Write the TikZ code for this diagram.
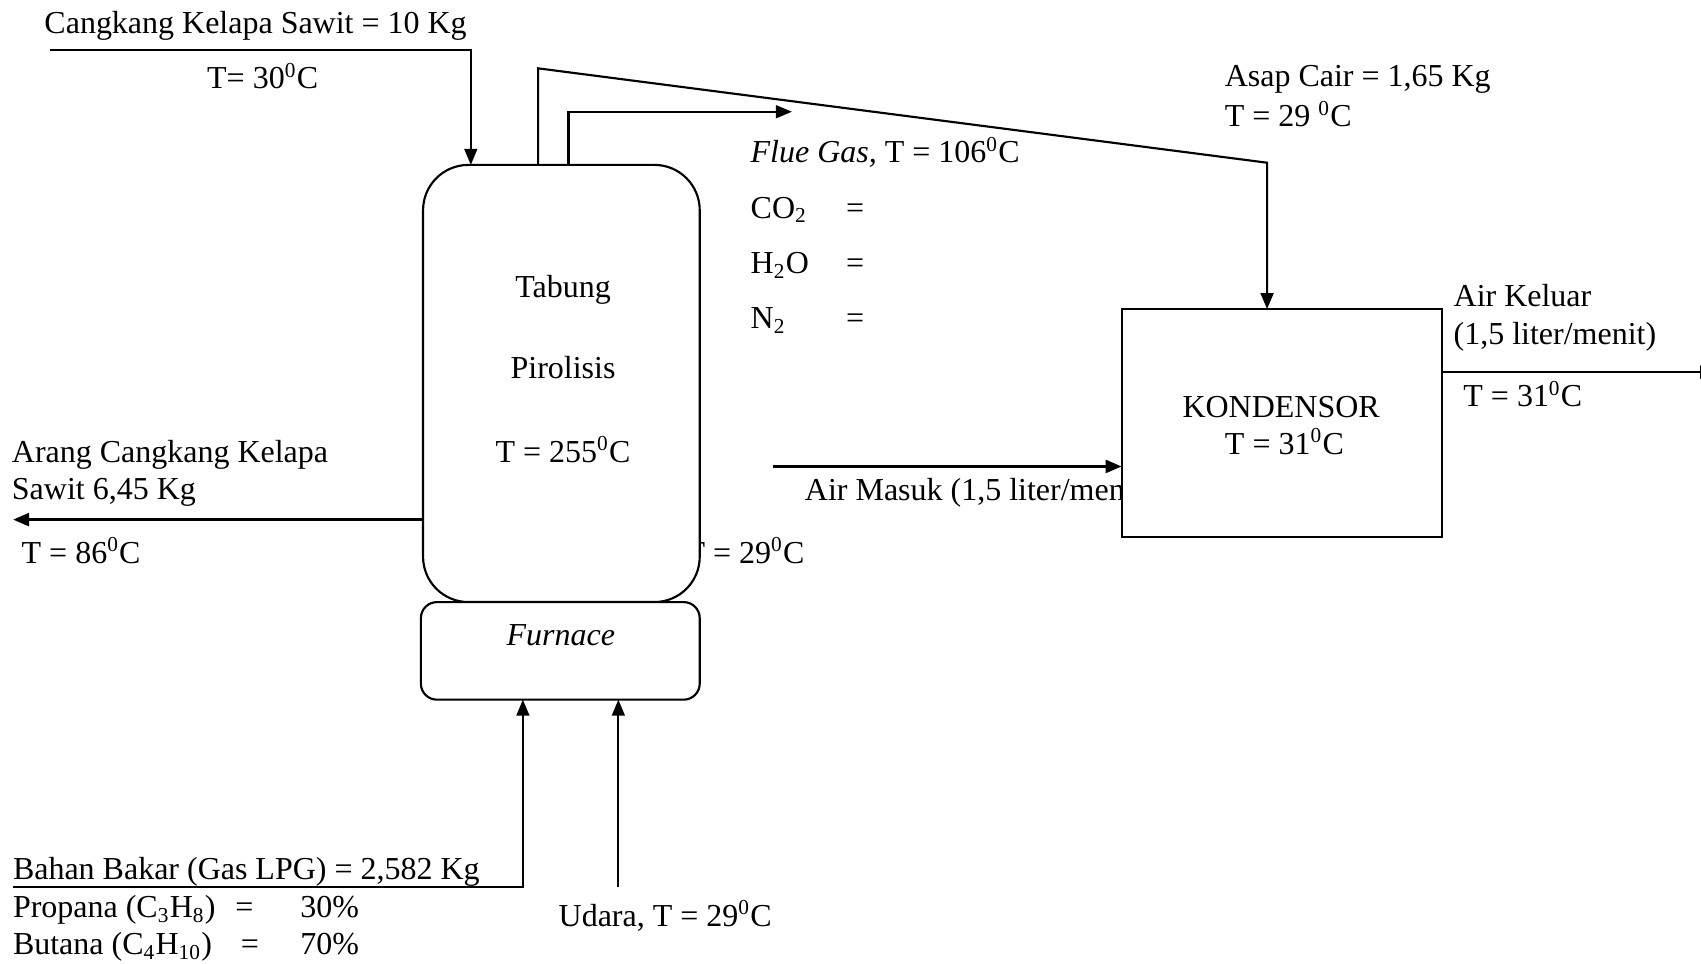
\documentclass[tikz,border=0pt]{standalone}
\usepackage{fontspec}
\setmainfont{Liberation Serif}
\usetikzlibrary{arrows.meta}
\tikzset{
  unit/.style={rectangle, draw, line width=0.8pt, fill=white, inner sep=0pt, outer sep=0pt},
  pipe/.style={line width=0.8pt},
  flow/.style={pipe, -{Triangle[length=6pt,width=4.8pt]}},
  thickflow/.style={flow, line width=1.1pt},
  lbl/.style={inner sep=0pt, outer sep=0pt, font=\fontsize{12}{14}\selectfont},
}
\newcommand{\dgc}{\textsuperscript{0}C}
\begin{document}
\begin{tikzpicture}[x=0.407pt,y=-0.407pt]
\useasboundingbox (0,0) rectangle (1568,888);

% labels partly hidden behind units (drawn first)
\node[lbl, anchor=base west] (tw) at (632,519) {T = 29\dgc};
\node[lbl, anchor=base west] (am) at (742,461) {Air Masuk (1,5 liter/menit)};

% units
\node[unit, rounded corners=17pt, minimum width=103.8pt, minimum height=164pt] (tab) at (517.5,353.5) {};
\node[unit, rounded corners=6pt, minimum width=104.6pt, minimum height=36.6pt] (fur) at (516.5,600) {};
\node[unit, minimum width=120.1pt, minimum height=85.5pt] (kon) at (1181.5,390) {};

\node[lbl, anchor=base] (t1) at (519,274) {Tabung};
\node[lbl, anchor=base] (t2) at (519,349) {Pirolisis};
\node[lbl, anchor=base] (t3) at (519,426) {T = 255\dgc};
\node[lbl, anchor=base] (f1t) at (517,595) {\textit{Furnace}};
\node[lbl, anchor=base] (k1t) at (1181,385) {KONDENSOR};
\node[lbl, anchor=base] (k2t) at (1184,419) {T = 31\dgc};

% coordinates
\coordinate (c0) at (46,46);
\coordinate (cx) at (434,46);
\coordinate (s1) at (496,63);
\coordinate (s2) at (1168,150);
\coordinate (fa) at (524,103);
\coordinate (fb) at (730,103);
\coordinate (a1) at (12,479);
\coordinate (m1) at (713,430);
\coordinate (k1) at (1582,343);
\coordinate (b1) at (12,818);
\coordinate (b2) at (482,818);
\coordinate (u1) at (570,818);

% connectors
\draw[flow] (c0) -- (cx) -- (cx |- tab.north);
\draw[flow] (s1 |- tab.north) -- (s1) -- (s2) -- (s2 |- kon.north);
\draw[flow] (fa |- tab.north) -- (fa) -- (fb);
\draw[thickflow] (tab.west |- a1) -- (a1);
\draw[thickflow] (m1) -- (m1 -| kon.west);
\draw[flow] (kon.east |- k1) -- (k1);
\draw[flow] (b1) -- (b2) -- (b2 |- fur.south);
\draw[flow] (u1) -- (u1 |- fur.south);

% labels
\node[lbl, anchor=base west] (l1) at (41,31) {Cangkang Kelapa Sawit = 10 Kg};
\node[lbl, anchor=base west] (l2) at (191,82) {T= 30\dgc};
\node[lbl, anchor=base west] (l3) at (692,150) {\textit{Flue Gas,} T = 106\dgc};
\node[lbl, anchor=base west] (l4) at (692,201) {CO\textsubscript{2}};
\node[lbl, anchor=base west] (l4e) at (780,201) {=};
\node[lbl, anchor=base west] (l5) at (692,252) {H\textsubscript{2}O};
\node[lbl, anchor=base west] (l5e) at (780,252) {=};
\node[lbl, anchor=base west] (l6) at (692,303) {N\textsubscript{2}};
\node[lbl, anchor=base west] (l6e) at (780,303) {=};
\node[lbl, anchor=base west] (l7) at (1129,80) {Asap Cair = 1,65 Kg};
\node[lbl, anchor=base west] (l8) at (1129,117) {T = 29 \dgc};
\node[lbl, anchor=base west] (l9) at (1340,283) {Air Keluar};
\node[lbl, anchor=base west] (l10) at (1340,318) {(1,5 liter/menit)};
\node[lbl, anchor=base west] (l11) at (1349,375) {T = 31\dgc};
\node[lbl, anchor=base west] (l12) at (11,426) {Arang Cangkang Kelapa};
\node[lbl, anchor=base west] (l13) at (11,460) {Sawit 6,45 Kg};
\node[lbl, anchor=base west] (l14) at (20,519) {T = 86\dgc};
\node[lbl, anchor=base west] (l15) at (12,811) {Bahan Bakar (Gas LPG) = 2,582 Kg};
\node[lbl, anchor=base west] (l16) at (12,846) {Propana (C\textsubscript{3}H\textsubscript{8})};
\node[lbl, anchor=base west] (l16e) at (217,846) {=};
\node[lbl, anchor=base west] (l16v) at (277,846) {30\%};
\node[lbl, anchor=base west] (l17) at (12,880) {Butana (C\textsubscript{4}H\textsubscript{10})};
\node[lbl, anchor=base west] (l17e) at (222,880) {=};
\node[lbl, anchor=base west] (l17v) at (277,880) {70\%};
\node[lbl, anchor=base west] (l18) at (515,854) {Udara, T = 29\dgc};
\end{tikzpicture}
\end{document}
